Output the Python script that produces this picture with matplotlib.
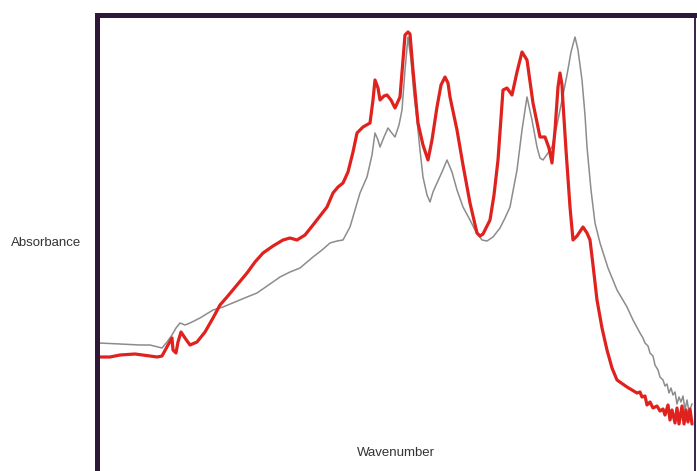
import matplotlib

matplotlib.use("Agg")

import numpy as np
import matplotlib.pyplot as plt

# channel index (along the wavenumber axis) and absorbance, arbitrary units
red_x = [2, 13, 23, 38, 53, 60, 65, 71, 75, 76, 79, 81, 84, 88, 93, 100, 108, 116, 123, 130,
         140, 150, 158, 166, 176, 186, 193, 200, 208, 216, 223, 230, 236, 241, 246, 251, 256, 260,
         266, 273, 276, 278, 281, 283, 287, 290, 294, 298, 303, 306, 308, 311, 313, 316, 321, 326,
         331, 335, 340, 344, 348, 351, 353, 360, 366, 373, 380, 383, 386, 393, 397, 401, 406, 410,
         415, 420, 425, 430, 436, 443, 448, 452, 455, 458, 461, 463, 465, 466, 469, 473, 476, 480,
         486, 490, 493, 496, 500, 505, 510, 515, 520, 530,
         540, 543, 545, 548, 550, 553, 556, 560, 563, 566, 568, 571, 573, 575, 578, 580, 582, 585,
         587, 589, 591, 593, 595]
red_a = [114, 114, 116, 117, 115, 114, 115, 126, 133, 121, 118, 129, 139, 133, 126, 129, 139, 153,
         166, 174, 186, 198, 209, 218, 225, 231, 233, 231, 236, 246, 255, 264, 278, 284, 288, 299,
         319, 338, 344, 348, 371, 391, 383, 371, 375, 376, 371, 363, 374, 411, 436, 439, 437, 401,
         348, 326, 311, 331, 364, 386, 394, 388, 374, 341, 306, 268, 238, 235, 237, 251, 276, 311,
         381, 383, 376, 399, 419, 411, 368, 334, 334, 323, 308, 341, 384, 398, 386, 368, 321, 264,
         231, 235, 244, 238, 231, 206, 171, 143, 121, 103, 91, 84,
         78, 79, 74, 75, 66, 69, 63, 65, 60, 62, 56, 66, 51, 61, 48, 63, 47, 65,
         47, 61, 49, 62, 47]

grey_x = [2, 23, 43, 53, 61, 65, 70, 75, 79, 83, 88, 93, 103, 116, 126, 138, 150, 160, 173, 183,
          193, 203, 216, 225, 233, 240, 246, 253, 258, 263, 270, 275, 278, 281, 283, 287, 291, 294,
          298, 302, 305, 308, 311, 314, 317, 320, 323, 326, 330, 333, 336, 340, 345, 350, 355, 360,
          366, 373, 379, 385, 390, 396, 403, 408, 413, 420, 425, 430, 435, 440, 443, 446, 451, 455,
          460, 465, 470, 474, 478, 481, 485, 488, 490, 494, 498, 503, 511, 520, 530, 536,
          543, 546, 548, 551, 553, 556, 558, 561, 563, 566, 568, 570, 572, 574, 576, 578, 580, 582,
          584, 586, 588, 590, 592, 595]
grey_a = [128, 127, 126, 126, 124, 123, 129, 136, 143, 148, 146, 148, 153, 161, 164, 169, 174, 178,
          187, 194, 199, 203, 214, 221, 228, 230, 231, 244, 261, 278, 294, 316, 338, 331, 324, 334,
          343, 339, 334, 346, 361, 401, 434, 411, 376, 351, 321, 294, 276, 269, 279, 288, 299, 311,
          299, 281, 264, 251, 239, 231, 230, 234, 243, 253, 264, 301, 341, 374, 351, 324, 313, 311,
          318, 324, 346, 371, 396, 419, 434, 421, 391, 356, 324, 281, 248, 228, 203, 181, 164, 151,
          138, 133, 128, 125, 118, 115, 106, 101, 94, 91, 85, 87, 78, 83, 76, 79, 67, 74,
          69, 75, 61, 71, 59, 67]

assert len(red_x) == len(red_a)
assert len(grey_x) == len(grey_a)

W, H = 697, 471
fig = plt.figure(figsize=(W / 100, H / 100), dpi=100)
ax = fig.add_axes([96.5 / W, 0, (694.5 - 96.5) / W, (H - 14.5) / H])

ax.plot(grey_x, grey_a, color='#8c8c8c', lw=1.1, solid_joinstyle='round')
ax.plot(red_x, red_a, color='#e0221e', lw=2.3, solid_joinstyle='round', solid_capstyle='round')

ax.set_xlim(-0.5, 597.5)
ax.set_ylim(0, 456.5)
ax.set_xticks([])
ax.set_yticks([])

ax.spines['bottom'].set_visible(False)
ax.spines['left'].set_color('#2e1838')
ax.spines['left'].set_linewidth(3.6)
ax.spines['top'].set_color('#2e1838')
ax.spines['top'].set_linewidth(3.6)
ax.spines['right'].set_color('#3c1f4a')
ax.spines['right'].set_linewidth(1.4)

fig.text(46 / W, 1 - 243 / H, 'Absorbance', ha='center', va='center',
         fontsize=9.5, family='Liberation Sans', color='#333333')
fig.text(396 / W, 1 - 453 / H, 'Wavenumber', ha='center', va='center',
         fontsize=9.5, family='Liberation Sans', color='#333333')

fig.savefig('out.png', dpi=100)
